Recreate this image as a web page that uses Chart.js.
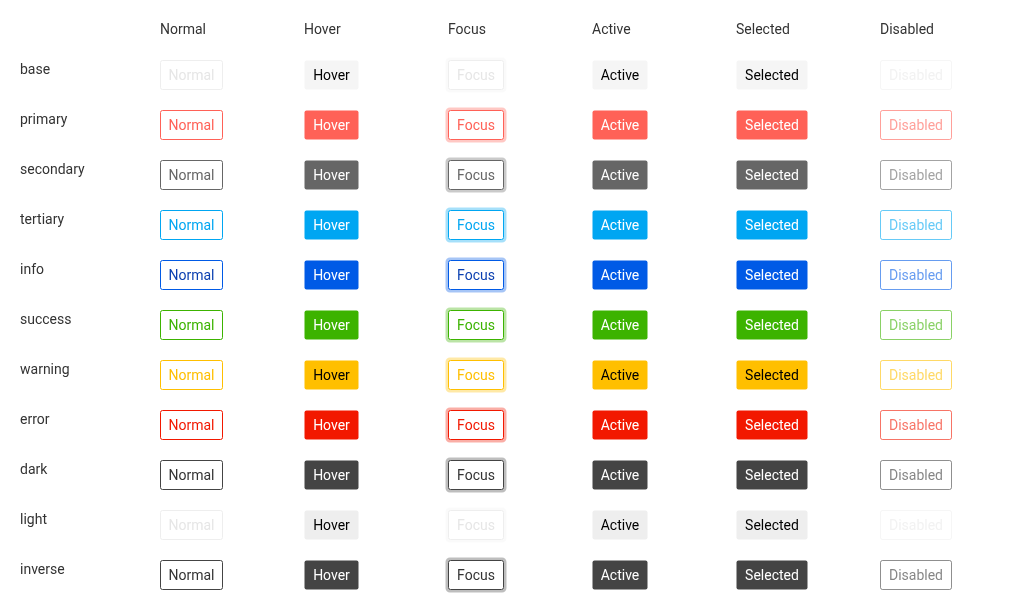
<!DOCTYPE html>
<html><head><meta charset="utf-8">
<script src="https://cdn.jsdelivr.net/npm/chart.js@4"></script>
<style>html,body{margin:0;background:#fff}#c{width:1024px;height:610px}</style>
</head><body><div id="c"><canvas id="cv"></canvas></div>
<script>
const states = ['Normal', 'Hover', 'Focus', 'Active', 'Selected', 'Disabled'];
const variants = ['base', 'primary', 'secondary', 'tertiary', 'info', 'success', 'warning', 'error', 'dark', 'light', 'inverse'];
const mainColors = ['#eeeeee', '#ff6157', '#666666', '#00a6f2', '#005ae6', '#3cb300', '#ffbf00', '#f21800', '#444444', '#eeeeee', '#444444'];
const fillText = ['#000', '#fff', '#fff', '#fff', '#fff', '#fff', '#000', '#fff', '#fff', '#000', '#fff'];

// button widths per state (style only)
const btnW = [63, 55, 56, 56, 72, 72];
const btnH = 30;

function isPale(v) { return v === 0 || v === 9; }

const points = [];
variants.forEach((v, r) => states.forEach((s, c) => points.push({ x: c, y: r })));

const buttonPlugin = {
  id: 'buttons',
  afterDatasetsDraw(chart) {
    const ctx = chart.ctx, xs = chart.scales.x, ys = chart.scales.y;
    ctx.save();
    ctx.font = '14px Roboto, "Liberation Sans", sans-serif';
    ctx.textBaseline = 'middle';
    ctx.fillStyle = '#333';
    ctx.textAlign = 'left';
    states.forEach((s, c) => ctx.fillText(s, xs.getPixelForValue(c), 30));
    variants.forEach((v, r) => ctx.fillText(v, 20, ys.getPixelForValue(r) - 5));
    ctx.textAlign = 'center';
    points.forEach(p => {
      const c = p.x, r = p.y, col = mainColors[r];
      const x = Math.round(xs.getPixelForValue(c)) + 0.5, yc = ys.getPixelForValue(r);
      const y = Math.round(yc - btnH / 2) + 0.5, w = btnW[c] - 1, h = btnH - 1;
      const pale = isPale(r);
      const filled = c === 1 || c === 3 || c === 4;
      ctx.globalAlpha = 1;
      if (c === 2) {
        ctx.beginPath(); ctx.roundRect(x - 1.5, y - 1.5, w + 3, h + 3, 3);
        ctx.lineWidth = 3; ctx.strokeStyle = col; ctx.globalAlpha = pale ? 0.3 : 0.35; ctx.stroke();
        ctx.globalAlpha = 1;
      }
      ctx.beginPath(); ctx.roundRect(x, y, w, h, 2);
      if (filled) {
        ctx.fillStyle = r === 0 ? '#f5f5f5' : col; ctx.fill();
        ctx.fillStyle = fillText[r];
      } else {
        ctx.fillStyle = '#fff'; ctx.fill();
        if (c === 5) ctx.globalAlpha = pale ? 0.5 : 0.6;
        ctx.lineWidth = 1; ctx.strokeStyle = pale ? '#eeeeee' : col; ctx.stroke();
        ctx.fillStyle = pale ? '#e6e6e6' : ((r === 8 || r === 10) ? '#333' : col);
        if (r === 4 && c !== 5) ctx.fillStyle = '#0a3fb0';
      }
      ctx.fillText(states[c], x + w / 2, yc + 1);
      ctx.globalAlpha = 1;
    });
    ctx.restore();
  }
};

new Chart(document.getElementById('cv'), {
  type: 'scatter',
  data: { datasets: [{ data: points, pointRadius: 0, pointHoverRadius: 0 }] },
  options: {
    responsive: true, maintainAspectRatio: false, animation: false,
    layout: { padding: { left: 160, right: 144, top: 75, bottom: 35 } },
    plugins: { legend: { display: false }, tooltip: { enabled: false } },
    scales: {
      x: { type: 'linear', min: 0, max: 5, display: false },
      y: { type: 'linear', min: 0, max: 10, reverse: true, display: false }
    }
  },
  plugins: [buttonPlugin]
});
</script></body></html>
